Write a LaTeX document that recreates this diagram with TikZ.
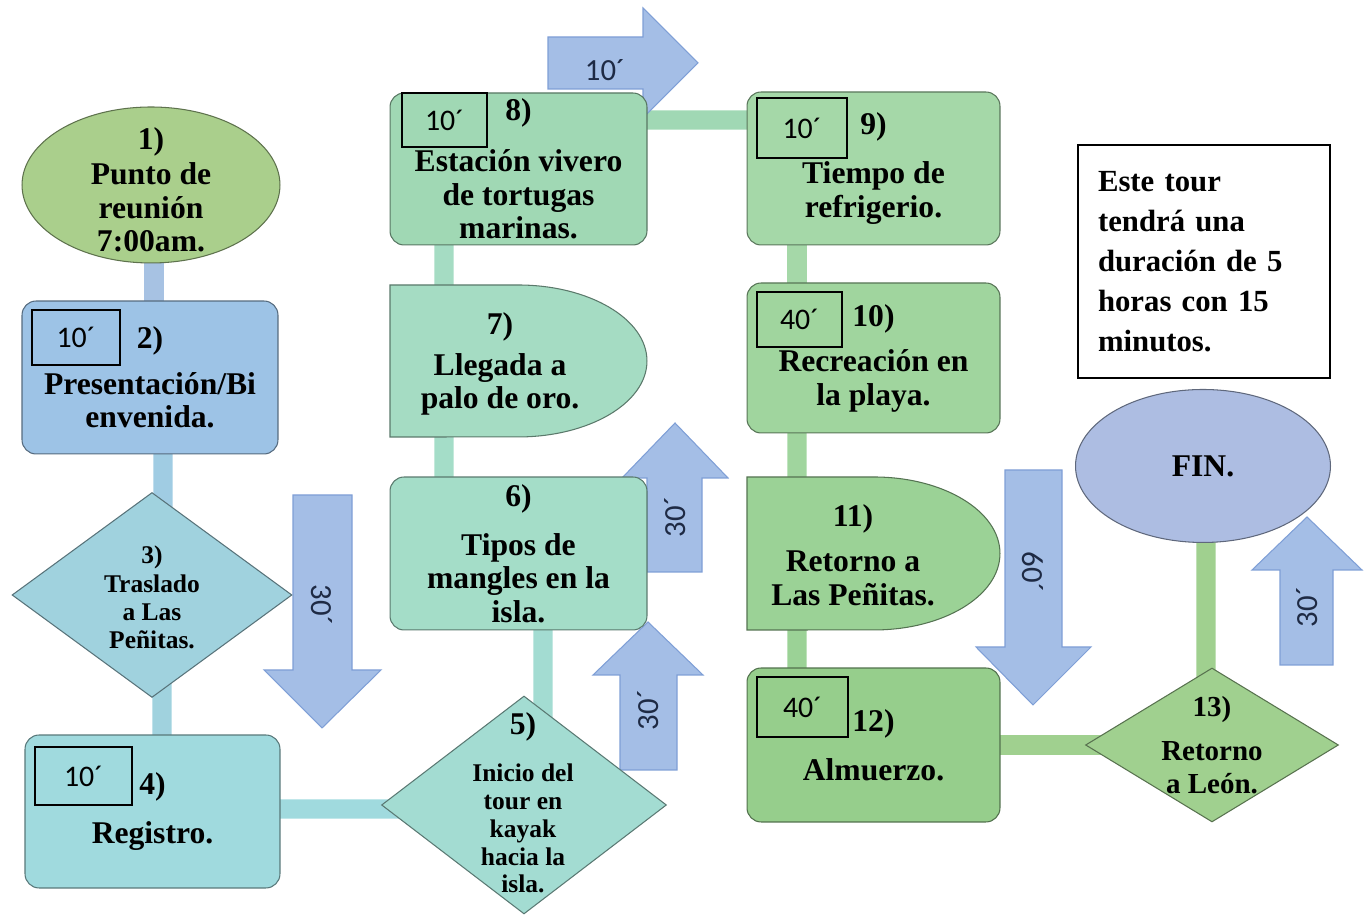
\documentclass[tikz,border=0pt]{standalone}
\usepackage{fontspec}
\setmainfont{Liberation Serif}
\newfontfamily\calibfont{Carlito}
\usetikzlibrary{shapes.geometric, backgrounds}

\definecolor{startgreen}{HTML}{AACF8C}
\definecolor{boxblue}{HTML}{9DC3E6}
\definecolor{diacyan}{HTML}{A0D2DE}
\definecolor{boxcyan}{HTML}{A0DADE}
\definecolor{diateal}{HTML}{A3DCD2}
\definecolor{boxmint}{HTML}{A4DDC8}
\definecolor{lagmint}{HTML}{A5DCC3}
\definecolor{boxjade}{HTML}{A0D8B4}
\definecolor{boxgreen}{HTML}{A5D8A8}
\definecolor{boxleaf}{HTML}{A0D59E}
\definecolor{lagleaf}{HTML}{9BD296}
\definecolor{boxlime}{HTML}{96CE8C}
\definecolor{dialime}{HTML}{A0D08F}
\definecolor{finblue}{HTML}{ADBDE2}
\definecolor{arrowblue}{HTML}{A4BEE6}
\definecolor{arrowedge}{HTML}{7F9FD6}
\definecolor{linkblue}{HTML}{A7C2E3}
\definecolor{linkcyan}{HTML}{A0CCE3}
\definecolor{arrowink}{HTML}{1E2A44}

\begin{document}
\begin{tikzpicture}[x=0.02cm, y=0.02cm,
    stepbox/.style={rectangle, rounded corners=8pt, fill=#1, draw=#1!55!black,
        line width=0.6pt, minimum width=5.12cm, minimum height=3.06cm,
        inner sep=0pt, align=center, font=\bfseries\fontsize{18}{19}\selectfont},
    endcap/.style={ellipse, fill=#1, draw=#1!55!black, line width=0.6pt, inner sep=0pt},
    choice/.style={diamond, fill=#1, draw=#1!55!black, line width=0.6pt, inner sep=0pt},
    lag/.style={fill=#1, draw=#1!55!black, line width=0.6pt},
    steptext/.style={align=center, font=\bfseries\fontsize{18}{19}\selectfont},
    smalltext/.style={align=center, font=\bfseries\fontsize{14.5}{15.8}\selectfont},
    timebox/.style={rectangle, draw=black, line width=0.8pt, inner sep=0pt,
        font=\calibfont\fontsize{17}{20}\selectfont},
    blockarrow/.style={fill=arrowblue, draw=arrowedge, line width=0.6pt},
    arrowtext/.style={font=\calibfont\fontsize{17.5}{20}\selectfont, text=arrowink},
    link/.style={line width=11pt, draw=#1},
    notebox/.style={rectangle, draw=black, line width=1.1pt, fill=white,
        text width=4.24cm, inner xsep=0.4cm, minimum height=4.66cm, align=left,
        font=\bfseries\fontsize{17.5}{22.8}\selectfont}
]
\useasboundingbox (0,0) rectangle (1367,915);

% time arrows
\path[blockarrow] (293,420) -- (352,420) -- (352,245) -- (381,245) -- (322,187) -- (264,245) -- (293,245) -- cycle;
\path[blockarrow] (647,343) -- (702,343) -- (702,437) -- (728,437) -- (675,492) -- (622,437) -- (647,437) -- cycle;
\path[blockarrow] (620,145) -- (677,145) -- (677,240) -- (703,240) -- (648,293) -- (593,240) -- (620,240) -- cycle;
\path[blockarrow] (548,826) -- (548,878) -- (643,878) -- (643,907) -- (698,852) -- (643,797) -- (643,826) -- cycle;
\path[blockarrow] (1005,445) -- (1062,445) -- (1062,268) -- (1091,268) -- (1033,210) -- (976,268) -- (1005,268) -- cycle;
\path[blockarrow] (1280,250) -- (1333,250) -- (1333,345) -- (1362,345) -- (1307,398) -- (1252,345) -- (1280,345) -- cycle;

\node[arrowtext, rotate=-90] (a1txt) at (322,310) {30´};
\node[arrowtext, rotate=90] (a2txt) at (675,398) {30´};
\node[arrowtext, rotate=90] (a3txt) at (648,205) {30´};
\node[arrowtext] (a4txt) at (605,845) {10´};
\node[arrowtext, rotate=-90] (a5txt) at (1033,343) {60´};
\node[arrowtext, rotate=90] (a6txt) at (1307,308) {30´};

% delay shapes
\path[lag=lagmint] (390,630) -- (518,630) arc[start angle=90, end angle=-90, x radius=2.58cm, y radius=1.52cm] -- (390,478) -- cycle;
\path[lag=lagleaf] (747,438) -- (874,438) arc[start angle=90, end angle=-90, x radius=2.52cm, y radius=1.53cm] -- (747,285) -- cycle;

% steps
\node[endcap=startgreen, minimum width=5.16cm, minimum height=3.12cm] (n1) at (151,730) {};
\node[steptext] (n1txt) at (151,725) {1)\\[1pt]Punto de\\reunión\\7:00am.};

\node[stepbox=boxblue] (b2) at (150,537.5) {2)\\[7pt]Presentación/Bi\\envenida.};
\node[timebox, minimum width=1.76cm, minimum height=1.1cm] (t2) at (76,577.5) {10´};

\node[choice=diacyan, minimum width=5.6cm, minimum height=4.1cm] (d3) at (152,320) {};
\node[smalltext] (d3txt) at (152,318) {3)\\[1pt]Traslado\\a Las\\Peñitas.};

\node[stepbox=boxcyan, minimum width=5.1cm] (b4) at (152.5,103.5) {4)\\[9pt]Registro.};
\node[timebox, minimum width=1.94cm, minimum height=1.16cm] (t4) at (83.5,139) {10´};

\node[choice=diateal, minimum width=5.7cm, minimum height=4.36cm] (d5) at (524,110) {};
\node[smalltext] (d5txt) at (523,112) {{\fontsize{18}{19}\selectfont 5)}\\[11pt]Inicio del\\tour en\\kayak\\hacia la\\isla.};

\node[stepbox=boxmint, minimum width=5.14cm] (b6) at (518.5,361.5) {6)\\[9pt]Tipos de\\mangles en la\\isla.};

\node[steptext] (n7) at (500,551) {7)\\[4pt]Llegada a\\palo de oro.};

\node[stepbox=boxjade, minimum width=5.14cm, minimum height=3.04cm] (b8) at (518.5,746) {8)\\[10pt]Estación vivero\\de tortugas\\marinas.};
\node[timebox, minimum width=1.7cm, minimum height=1.08cm] (t8) at (444.5,795) {10´};

\node[stepbox=boxgreen, minimum width=5.06cm] (b9) at (873.5,746.5) {9)\\[9pt]Tiempo de\\refrigerio.};
\node[timebox, minimum width=1.8cm, minimum height=1.2cm] (t9) at (802,787) {10´};

\node[stepbox=boxleaf, minimum width=5.06cm, minimum height=3cm] (b10) at (873.5,557) {10)\\[7pt]Recreación en\\la playa.};
\node[timebox, minimum width=1.7cm, minimum height=1.1cm] (t10) at (799.5,595.5) {40´};

\node[steptext] (n11) at (853,360) {11)\\[7pt]Retorno a\\Las Peñitas.};

\node[stepbox=boxlime, minimum width=5.06cm, minimum height=3.08cm] (b12) at (873.5,170) {12)\\[9pt]Almuerzo.};
\node[timebox, minimum width=1.82cm, minimum height=1.2cm] (t12) at (802.5,208) {40´};

\node[choice=dialime, minimum width=5.06cm, minimum height=3.08cm] (d13) at (1212,170) {};
\node[steptext, font=\bfseries\fontsize{16.5}{19}\selectfont] (d13txt) at (1212,170) {13)\\[6pt]Retorno\\a León.};

\node[endcap=finblue, minimum width=5.1cm, minimum height=3.06cm,
    font=\bfseries\fontsize{18}{19}\selectfont] (fin) at (1203,449) {FIN.};

\node[notebox] (note) at (1204,653.5) {Este tour\\tendrá una\\duración de 5\\horas con 15\\minutos.};

% connectors
\begin{scope}[on background layer]
\draw[link=linkblue] ([xshift=0.06cm]n1.center) -- ([xshift=0.08cm]b2.center);
\draw[link=linkcyan] ([xshift=0.26cm]b2.center) -- ([xshift=0.22cm]d3.center);
\draw[link=diacyan] ([xshift=0.2cm]d3.center) -- ([xshift=0.19cm]b4.center);
\draw[link=boxcyan] ([yshift=0.05cm]b4.center) -- ([yshift=-0.08cm]d5.center);
\draw[link=diateal] ([xshift=0.38cm]d5.center) -- ([xshift=0.49cm]b6.center);
\draw[link=boxmint] ([xshift=-1.49cm]b6.center) -- ([xshift=-1.12cm]n7.center);
\draw[link=lagmint] ([xshift=-1.12cm]n7.center) -- ([xshift=-1.49cm]b8.center);
\draw[link=boxjade] ([yshift=0.98cm]b8.center) -- ([yshift=0.97cm]b9.center);
\draw[link=boxgreen] ([xshift=-1.53cm]b9.center) -- ([xshift=-1.53cm]b10.center);
\draw[link=boxleaf] ([xshift=-1.53cm]b10.center) -- ([xshift=-1.12cm]n11.center);
\draw[link=lagleaf] ([xshift=-1.12cm]n11.center) -- ([xshift=-1.53cm]b12.center);
\draw[link=dialime] (b12.center) -- (d13.center);
\draw[link=dialime] ([xshift=-0.12cm]d13.center) -- ([xshift=0.06cm]fin.center);
\end{scope}
\end{tikzpicture}
\end{document}
